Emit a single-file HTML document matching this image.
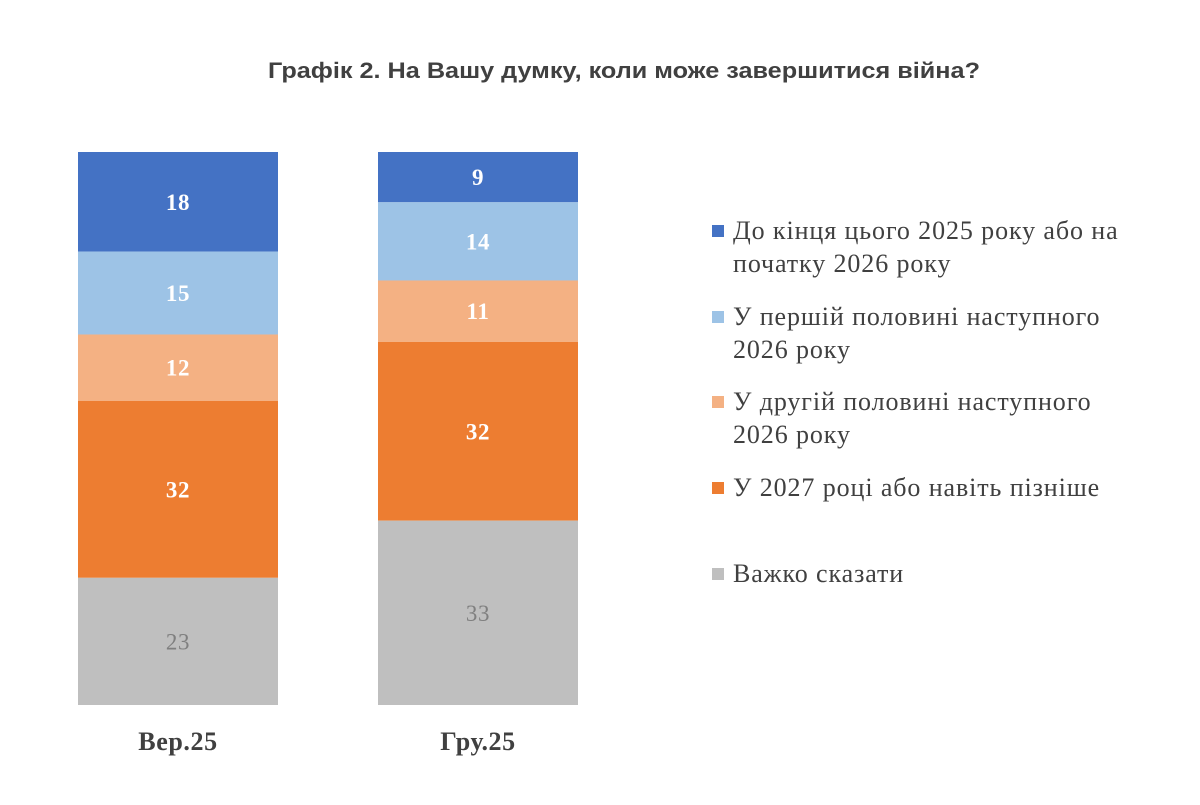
<!DOCTYPE html>
<html><head><meta charset="utf-8"><style>
body{margin:0;background:#fff;width:1200px;height:800px;overflow:hidden}
svg text{font-family:"Liberation Serif",serif}
</style></head><body>
<svg id="chart" width="1200" height="800">
<text x="624" y="78" text-anchor="middle" textLength="712" lengthAdjust="spacingAndGlyphs" style="font-family:'Liberation Sans',sans-serif;font-weight:bold;font-size:22px" fill="#404040">Графік 2. На Вашу думку, коли може завершитися війна?</text>
<g id="bars"></g>
<g id="legend"></g>
</svg>
<script>
const categories=["Вер.25","Гру.25"];
const seriesNames=["До кінця цього 2025 року або на|початку 2026 року","У першій половині наступного|2026 року","У другій половині наступного|2026 року","У 2027 році або навіть пізніше","Важко сказати"];
const s1=[18,9];
const s2=[15,14];
const s3=[12,11];
const s4=[32,32];
const s5=[23,33];
const series=[s1,s2,s3,s4,s5];
const colors=["#4472C4","#9DC3E6","#F4B183","#ED7D31","#BFBFBF"];
const ns="http://www.w3.org/2000/svg";
const top0=152,bottom=705,barW=200;
const xc=i=>178+i*300;
const bars=document.getElementById('bars');
categories.forEach((c,i)=>{
  const tot=series.reduce((a,s)=>a+s[i],0);
  const sc=v=>v/tot*(bottom-top0);
  let y=top0;
  series.forEach((s,k)=>{
    const h=sc(s[i]);
    const r=document.createElementNS(ns,'rect');
    r.setAttribute('x',xc(i)-barW/2);r.setAttribute('y',y);r.setAttribute('width',barW);r.setAttribute('height',h);r.setAttribute('fill',colors[k]);
    
    
    bars.appendChild(r);
    const t=document.createElementNS(ns,'text');
    t.setAttribute('x',xc(i));t.setAttribute('y',y+h/2+8);t.setAttribute('text-anchor','middle');
    t.setAttribute('font-size','23');t.setAttribute('letter-spacing','0.6');
    if(k<4){t.setAttribute('fill','#fff');t.setAttribute('font-weight','bold');}else{t.setAttribute('fill','#7f7f7f');}
    t.textContent=s[i];
    
    
    bars.appendChild(t);
    y+=h;
  });
  const l=document.createElementNS(ns,'text');
  l.setAttribute('x',xc(i));l.setAttribute('y',750);l.setAttribute('text-anchor','middle');l.setAttribute('font-size','26');l.setAttribute('letter-spacing','0.6');l.setAttribute('font-weight','bold');l.setAttribute('fill','#404040');
  l.textContent=c;
  
  
  bars.appendChild(l);
});
const lg=document.getElementById('legend');
const ly=[232,318,403,489,575];
seriesNames.forEach((n,k)=>{
  const g=document.createElementNS(ns,'g');
  
  
  const r=document.createElementNS(ns,'rect');
  r.setAttribute('x',712);r.setAttribute('y',ly[k]-7);r.setAttribute('width',12);r.setAttribute('height',12);r.setAttribute('fill',colors[k]);
  g.appendChild(r);
  n.split('|').forEach((line,j)=>{
    const t=document.createElementNS(ns,'text');
    t.setAttribute('x',733);t.setAttribute('y',ly[k]+7+j*33);t.setAttribute('font-size','26');t.setAttribute('letter-spacing','0.9');t.setAttribute('fill','#404040');
    t.textContent=line;g.appendChild(t);
  });
  lg.appendChild(g);
});
</script>
</body></html>
